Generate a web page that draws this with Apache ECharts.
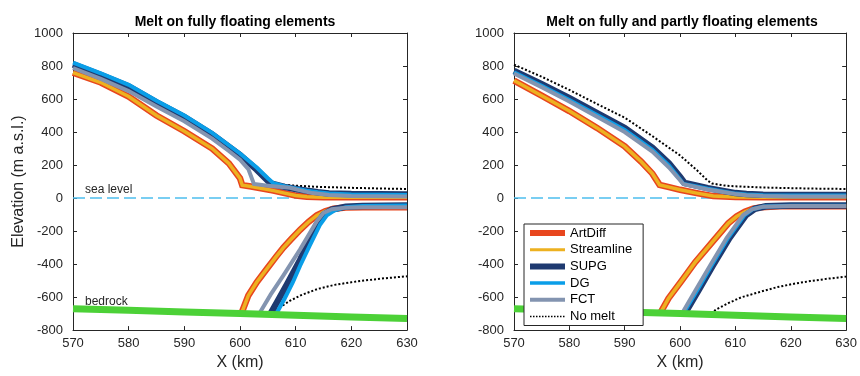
<!DOCTYPE html>
<html lang="en">

<head>
    <meta charset="UTF-8">
    <title>Melt comparison</title>
    <script src="https://cdn.jsdelivr.net/npm/echarts@6/dist/echarts.min.js"></script>
    <style>
        html, body { margin: 0; padding: 0; background: #fff; overflow: hidden; }
        #chart { width: 860px; height: 376px; }
    </style>
</head>

<body>
    <div id="chart"></div>
    <script>
        // axis ranges and panel titles
        const xRange = [570, 630];
        const yRange = [-800, 1000];
        const panelTitles = ['Melt on fully floating elements', 'Melt on fully and partly floating elements'];
        const methods = ['ArtDiff', 'Streamline', 'SUPG', 'DG', 'FCT', 'No melt'];

        // common lines
        const seaLevel = [[570, 0], [630, 0]];
        const bedrock = [[570, -670], [580, -680], [590, -690], [600, -700], [610, -710], [620, -720], [630, -730]];

        // left panel: melt on fully floating elements (upper / lower surfaces)
        const artDiffUpL = [[570, 760], [575, 700], [580, 615], [585, 500], [590, 405], [595, 300], [598, 210], [600, 120], [600.4, 78],
            [602, 70], [604, 58], [606, 45], [608, 30], [610, 15], [612, 8], [615, 5], [630, 5]];
        const artDiffLoL = [[600.3, -695], [601.5, -590], [603, -510], [604.8, -430], [606.5, -355], [607.8, -300], [609.3, -245],
            [610.8, -192], [612.3, -145], [613.8, -105], [615.3, -80], [616.8, -65], [619, -57], [622, -55], [630, -55]];
        const supgUpL = [[570, 810], [575, 746], [580, 676], [585, 580], [590, 490], [595, 385], [600, 260], [603, 172], [605, 105],
            [605.5, 88], [608, 68], [610, 55], [612, 44], [614, 35], [616, 28], [620, 24], [630, 22]];
        const supgLoL = [[605.5, -700], [607, -610], [608.5, -520], [610.8, -375], [612.3, -270], [613.8, -160], [615, -100],
            [616.5, -70], [619, -52], [622, -48], [630, -45]];
        const dgUpL = [[570, 820], [575, 756], [580, 686], [585, 590], [590, 500], [595, 395], [600, 270], [603, 185], [605, 120],
            [606, 90], [608, 72], [610, 58], [612, 45], [614, 35], [616, 27], [620, 21], [630, 18]];
        const dgLoL = [[606.5, -702], [608, -610], [609.5, -510], [610.8, -410], [612.5, -290], [614.4, -160], [615.6, -105],
            [617, -75], [619, -55], [622, -48], [630, -45]];
        const fctUpL = [[570, 788], [575, 722], [580, 648], [585, 555], [590, 465], [595, 360], [598, 285], [600, 232], [601.5, 175],
            [602.5, 85], [605, 75], [609, 62], [611, 45], [613, 30], [616, 18], [620, 12], [630, 10]];
        const fctLoL = [[603.5, -698], [605.5, -585], [607.8, -469], [609.3, -390], [610.8, -311], [612.3, -225], [613.8, -140],
            [615, -90], [616.5, -68], [619, -58], [622, -55], [630, -55]];
        const noMeltUpL = [[606.5, 88], [608, 80], [610, 75], [614, 68], [620, 62], [625, 58], [630, 55]];
        const noMeltLoL = [[606.2, -702], [607, -665], [609, -622], [611, -588], [614, -550], [617, -526], [620, -510], [623, -497],
            [626, -486], [630, -474]];

        // right panel: melt on fully and partly floating elements
        const artDiffUpR = [[570, 712], [575, 620], [580, 527], [585, 425], [590, 313], [593, 220], [595, 148], [596.3, 80],
            [598, 66], [600, 50], [603, 30], [606, 12], [610, 6], [615, 5], [630, 5]];
        const artDiffLoR = [[596.5, -692], [597.9, -608], [600.3, -500], [602.7, -390], [605.7, -272], [608.7, -153], [610.2, -112],
            [611.7, -83], [613.2, -64], [614.7, -55], [618, -50], [630, -50]];
        const supgUpR = [[570, 770], [575, 690], [580, 605], [585, 515], [590, 425], [595, 305], [598, 210], [600, 128], [600.8, 92],
            [603, 75], [605, 60], [608, 42], [610, 30], [612, 24], [615, 20], [620, 18], [630, 18]];
        const supgLoR = [[600.9, -697], [603.4, -555], [605.9, -410], [608.9, -242], [611.9, -103], [613.5, -65], [615.5, -50],
            [620, -45], [630, -45]];
        const dgUpR = [[570, 762], [575, 680], [580, 594], [585, 503], [590, 412], [595, 293], [598, 196], [600, 112], [600.6, 86],
            [603, 70], [605, 56], [608, 38], [610, 27], [612, 21], [615, 17], [620, 15], [630, 15]];
        const dgLoR = [[600.65, -697], [603.15, -555], [605.65, -410], [608.65, -242], [611.65, -103], [613.2, -66], [615.2, -51],
            [620, -46], [630, -46]];
        const fctUpR = [[570, 755], [575, 672], [580, 585], [585, 492], [590, 400], [595, 282], [598, 185], [600, 108], [600.6, 84],
            [603, 66], [605, 52], [608, 35], [610, 24], [612, 17], [615, 12], [620, 10], [630, 10]];
        const fctLoR = [[600.4, -696], [602.9, -553], [605.4, -410], [608.4, -242], [611.4, -103], [613, -68], [615, -52],
            [620, -48], [630, -48]];
        const noMeltUpR = [[570, 808], [575, 735], [580, 655], [585, 570], [590, 487], [595, 375], [600, 258], [603, 170], [605, 105],
            [605.8, 88], [608, 76], [610, 71], [615, 64], [620, 60], [625, 57], [630, 55]];
        const noMeltLoR = [[605.6, -700], [606.5, -675], [608.7, -637], [611, -602], [614.7, -566], [617.5, -540], [620.6, -519],
            [623.5, -503], [626.6, -489], [630, -476]];

        const styles = {
            'ArtDiff': { color: '#E8461E', width: 6.5, type: 'solid' },
            'Streamline': { color: '#EDB120', width: 3.5, type: 'solid' },
            'SUPG': { color: '#1F3A70', width: 6.5, type: 'solid' },
            'DG': { color: '#0A9EE8', width: 4, type: 'solid' },
            'FCT': { color: '#8394B0', width: 4, type: 'solid' },
            'No melt': { color: '#000000', width: 2, type: 'dotted' }
        };

        const panels = [
            { 'No melt': [noMeltUpL, noMeltLoL], 'ArtDiff': [artDiffUpL, artDiffLoL], 'Streamline': [artDiffUpL, artDiffLoL],
              'SUPG': [supgUpL, supgLoL], 'DG': [dgUpL, dgLoL], 'FCT': [fctUpL, fctLoL] },
            { 'No melt': [noMeltUpR, noMeltLoR], 'ArtDiff': [artDiffUpR, artDiffLoR], 'Streamline': [artDiffUpR, artDiffLoR],
              'SUPG': [supgUpR, supgLoR], 'DG': [dgUpR, dgLoR], 'FCT': [fctUpR, fctLoR] }
        ];

        const axisColor = '#262626';
        const font = 'Liberation Sans, Arial, sans-serif';

        function line(name, data, g, st) {
            return {
                type: 'line', name: name, data: data,
                xAxisIndex: g, yAxisIndex: g,
                symbol: 'none', silent: true, animation: false,
                lineStyle: { color: st.color, width: st.width, type: st.type, join: 'miter' },
                itemStyle: { color: st.color }
            };
        }

        const series = [];
        const drawOrder = ['No melt', 'ArtDiff', 'Streamline', 'SUPG', 'DG', 'FCT'];
        panels.forEach(function (p, g) {
            series.push(line('sea level', seaLevel, g, { color: '#4DBEEE', width: 1.5, type: [12, 5] }));
            drawOrder.forEach(function (m) {
                p[m].forEach(function (d) { series.push(line(m, d, g, styles[m])); });
            });
            series.push(line('bedrock', bedrock, g, { color: '#4CD137', width: 7, type: 'solid' }));
        });

        // plot boxes in pixels
        const grids = [
            { left: 73, width: 334, top: 33, height: 303 },
            { left: 514, width: 335, top: 33, height: 303 }
        ];

        const xAxes = [], yAxes = [];
        [0, 1].forEach(function (g) {
            xAxes.push({
                type: 'value', gridIndex: g, min: xRange[0], max: xRange[1], interval: 10,
                name: 'X (km)', nameLocation: 'middle', nameGap: 23,
                nameTextStyle: { fontSize: 16, color: axisColor, fontFamily: font },
                axisLine: { onZero: false, lineStyle: { color: axisColor } },
                axisTick: { inside: true, length: 4, lineStyle: { color: axisColor } },
                axisLabel: { fontSize: 13, color: axisColor, fontFamily: font, margin: 7 },
                splitLine: { show: false }
            });
            yAxes.push({
                type: 'value', gridIndex: g, min: yRange[0], max: yRange[1], interval: 200,
                name: g === 0 ? 'Elevation (m a.s.l.)' : '', nameLocation: 'middle', nameGap: 46,
                nameTextStyle: { fontSize: 16, color: axisColor, fontFamily: font },
                axisLine: { onZero: false, lineStyle: { color: axisColor } },
                axisTick: { inside: true, length: 4, lineStyle: { color: axisColor } },
                axisLabel: { fontSize: 13, color: axisColor, fontFamily: font, margin: 10,
                    formatter: function (v) { return String(v); } },
                splitLine: { show: false }
            });
        });
        // box: top and right axes with inward ticks
        [0, 1].forEach(function (g) {
            xAxes.push({
                type: 'value', gridIndex: g, position: 'top', min: xRange[0], max: xRange[1], interval: 10,
                axisLine: { onZero: false, lineStyle: { color: axisColor } },
                axisTick: { inside: true, length: 4, lineStyle: { color: axisColor } },
                axisLabel: { show: false }, splitLine: { show: false }
            });
            yAxes.push({
                type: 'value', gridIndex: g, position: 'right', min: yRange[0], max: yRange[1], interval: 200,
                axisLine: { onZero: false, lineStyle: { color: axisColor } },
                axisTick: { inside: true, length: 4, lineStyle: { color: axisColor } },
                axisLabel: { show: false }, splitLine: { show: false }
            });
        });

        const legendWidths = { 'ArtDiff': 6, 'Streamline': 3, 'SUPG': 6, 'DG': 3.5, 'FCT': 4, 'No melt': 1.5 };

        var myChart = echarts.init(document.getElementById('chart'));

        var option = {
            animation: false,
            backgroundColor: '#fff',
            title: [
                { text: panelTitles[0], left: 230, top: 10, textAlign: 'center',
                  textStyle: { fontSize: 14, fontWeight: 'bold', color: '#000', fontFamily: font } },
                { text: panelTitles[1], left: 677, top: 10, textAlign: 'center',
                  textStyle: { fontSize: 14, fontWeight: 'bold', color: '#000', fontFamily: font } }
            ],
            legend: {
                orient: 'vertical', left: 524, top: 224,
                backgroundColor: '#fff', borderColor: axisColor, borderWidth: 1,
                padding: [2, 11, 2, 3], itemWidth: 35, itemHeight: 14, itemGap: 2.7,
                textStyle: { fontSize: 13, color: '#000', fontFamily: font, lineHeight: 14 },
                itemStyle: { color: 'rgba(0,0,0,0)', borderWidth: 0 },
                selectedMode: false,
                data: methods.map(function (m) {
                    return { name: m, lineStyle: { width: legendWidths[m] } };
                })
            },
            grid: grids,
            xAxis: xAxes,
            yAxis: yAxes,
            graphic: [
                { type: 'text', left: 85, top: 184, silent: true,
                  style: { text: 'sea level', fontSize: 12, fill: axisColor, fontFamily: font } },
                { type: 'text', left: 85, top: 296, silent: true,
                  style: { text: 'bedrock', fontSize: 12, fill: axisColor, fontFamily: font } }
            ],
            series: series
        };

        myChart.setOption(option);

        window.addEventListener('resize', function () {
            myChart.resize();
        });
    </script>
</body>

</html>
